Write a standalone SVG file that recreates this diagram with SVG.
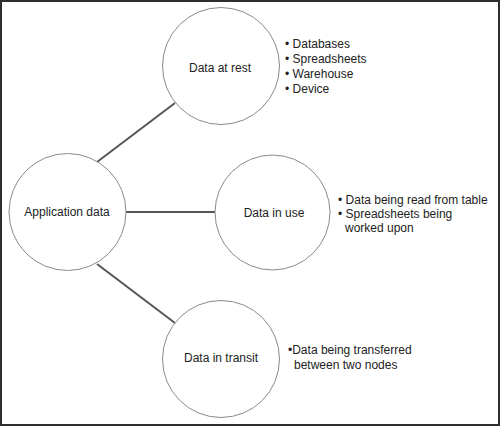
<svg xmlns="http://www.w3.org/2000/svg" width="500" height="426" viewBox="0 0 500 426">
<style>
.node circle{fill:#fff;stroke:#8a8a8a;stroke-width:1}
.lbl{font-family:"Liberation Sans",Arial,sans-serif;font-size:12px;fill:#222;text-anchor:middle}
.lst{font-family:"Liberation Sans",Arial,sans-serif;font-size:12px;fill:#222}
#connectors line{stroke:#555;stroke-width:2}
</style>
<rect x="1" y="1" width="498" height="424" fill="#fff" stroke="#2e2e2e" stroke-width="2"/>
<g id="connectors">
<line x1="97" y1="162" x2="175" y2="103"/>
<line x1="126" y1="212" x2="215" y2="212"/>
<line x1="97" y1="264" x2="175" y2="323"/>
</g>
<g id="app" class="node">
<circle cx="67.5" cy="212" r="58.5"/>
<text class="lbl" x="67" y="216">Application data</text>
</g>
<g id="rest" class="node">
<circle cx="221" cy="66" r="58.5"/>
<text class="lbl" x="220" y="72">Data at rest</text>
<text class="lst" x="285" y="48">• Databases</text>
<text class="lst" x="285" y="63">• Spreadsheets</text>
<text class="lst" x="285" y="78">• Warehouse</text>
<text class="lst" x="285" y="93">• Device</text>
</g>
<g id="use" class="node">
<circle cx="272.5" cy="212.5" r="57.5"/>
<text class="lbl" x="274" y="217">Data in use</text>
<text class="lst" x="338" y="204">• Data being read from table</text>
<text class="lst" x="338" y="218">• Spreadsheets being</text>
<text class="lst" x="345" y="232">worked upon</text>
</g>
<g id="transit" class="node">
<circle cx="221" cy="359" r="58.5"/>
<text class="lbl" x="221" y="362">Data in transit</text>
<text class="lst" x="288" y="354">•Data being transferred</text>
<text class="lst" x="294" y="369">between two nodes</text>
</g>
</svg>
